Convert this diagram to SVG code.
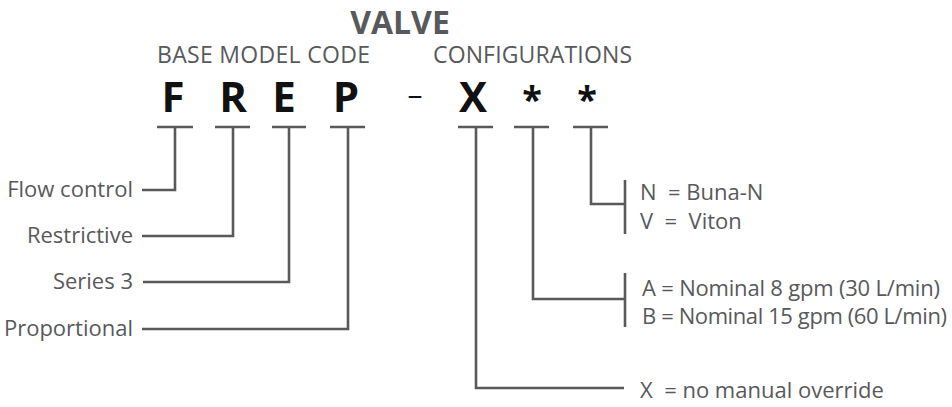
<svg xmlns="http://www.w3.org/2000/svg" width="952" height="407" viewBox="0 0 952 407">
<style>
.h{font-family:"Open Sans","Liberation Sans",sans-serif;fill:#58595b}
.code{font-family:"Open Sans","Liberation Sans",sans-serif;font-weight:bold;font-size:42px;fill:#111;text-anchor:middle}
.dash{font-weight:normal;font-size:30px}
.star{font-size:36px}
.lbl{font-family:"Open Sans","Liberation Sans",sans-serif;font-size:22px;fill:#58595b;white-space:pre}
.ln{fill:none;stroke:#58595b;stroke-width:2.6;stroke-linecap:butt;stroke-linejoin:miter}
</style>
<rect width="952" height="407" fill="#fff"/>
<g id="title">
<text class="h" x="400" y="34" font-size="32" font-weight="bold" text-anchor="middle">VALVE</text>
<text class="h" x="157" y="63" font-size="23" textLength="213">BASE MODEL CODE</text>
<text class="h" x="433" y="63" font-size="23" textLength="199">CONFIGURATIONS</text>
</g>
<g id="code">
<text class="code" x="173" y="112">F</text>
<text class="code" x="233" y="112">R</text>
<text class="code" x="284" y="112">E</text>
<text class="code" x="346" y="112">P</text>
<text class="code dash" x="415" y="105">–</text>
<text class="code" x="473" y="112">X</text>
<text class="code star" x="532" y="112">*</text>
<text class="code star" x="587" y="112">*</text>
</g>
<g id="connectors">
<path class="ln" d="M157 127H193M175 127V190H142"/>
<path class="ln" d="M215 127H250M233 127V236H142"/>
<path class="ln" d="M272 127H306M289 127V282H143"/>
<path class="ln" d="M330 127H365M348 127V329H142"/>
<path class="ln" d="M458 127H493M476 127V388H624"/>
<path class="ln" d="M514 127H549M533 127V299H625M625 273V327"/>
<path class="ln" d="M573 127H608M591 127V204H625M625 180V234"/>
</g>
<g id="label-flow"><text class="lbl" x="133" y="197" text-anchor="end">Flow control</text></g>
<g id="label-restrictive"><text class="lbl" x="133" y="243" text-anchor="end">Restrictive</text></g>
<g id="label-series"><text class="lbl" x="133" y="289" text-anchor="end">Series 3</text></g>
<g id="label-proportional"><text class="lbl" x="133" y="336" text-anchor="end">Proportional</text></g>
<g id="label-seal">
<text class="lbl" x="640" y="200">N  = Buna-N</text>
<text class="lbl" x="640" y="229">V  =  Viton</text>
</g>
<g id="label-flow-rate">
<text class="lbl" x="642" y="296" textLength="298">A = Nominal 8 gpm (30 L/min)</text>
<text class="lbl" x="642" y="324" textLength="305">B = Nominal 15 gpm (60 L/min)</text>
</g>
<g id="label-override"><text class="lbl" x="640" y="398">X  = no manual override</text></g>
</svg>
